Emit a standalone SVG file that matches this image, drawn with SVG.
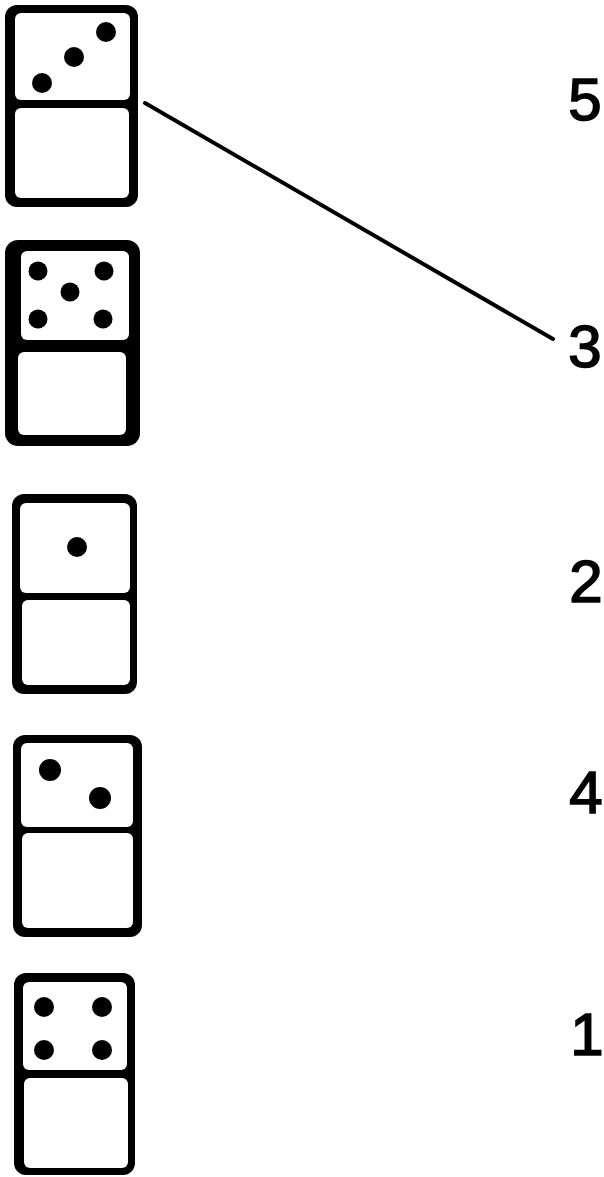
<svg xmlns="http://www.w3.org/2000/svg" width="604" height="1177" viewBox="0 0 604 1177">
<style>
.body{fill:#000}
.cell{fill:#fff}
.pip{fill:#000}
.lbl{font-family:"Liberation Sans",Arial,sans-serif;font-size:60px;fill:#000;stroke:#000;stroke-width:1.6;text-anchor:middle}
.conn{stroke:#000;stroke-width:4;fill:none;stroke-linecap:round}
</style>
<rect width="604" height="1177" fill="#fff"/>
<g id="domino-3">
<rect class="body" x="5" y="5" width="133" height="202" rx="12"/>
<rect class="cell" x="15" y="13" width="115" height="87" rx="6"/>
<rect class="cell" x="15" y="108" width="114" height="90" rx="6"/>
<circle class="pip" cx="42" cy="83" r="10"/>
<circle class="pip" cx="74" cy="57" r="10"/>
<circle class="pip" cx="106" cy="32" r="10"/>
</g>
<g id="domino-5">
<rect class="body" x="5" y="240" width="135" height="206" rx="13"/>
<rect class="cell" x="21" y="251" width="108" height="89" rx="6"/>
<rect class="cell" x="18" y="352" width="108" height="83" rx="6"/>
<circle class="pip" cx="38" cy="271" r="9.5"/>
<circle class="pip" cx="104" cy="271" r="9.5"/>
<circle class="pip" cx="70" cy="292" r="9.5"/>
<circle class="pip" cx="38" cy="319" r="9.5"/>
<circle class="pip" cx="103" cy="319" r="9.5"/>
</g>
<g id="domino-1">
<rect class="body" x="12" y="494" width="125" height="200" rx="12"/>
<rect class="cell" x="20" y="503" width="110" height="90" rx="6"/>
<rect class="cell" x="22" y="600" width="108" height="85" rx="6"/>
<circle class="pip" cx="77" cy="547" r="10"/>
</g>
<g id="domino-2">
<rect class="body" x="13" y="735" width="129" height="202" rx="12"/>
<rect class="cell" x="21" y="743" width="112" height="84" rx="6"/>
<rect class="cell" x="22" y="833" width="111" height="95" rx="6"/>
<circle class="pip" cx="50" cy="770" r="11"/>
<circle class="pip" cx="100" cy="798" r="11"/>
</g>
<g id="domino-4">
<rect class="body" x="14" y="973" width="121" height="202" rx="12"/>
<rect class="cell" x="23" y="982" width="104" height="88" rx="6"/>
<rect class="cell" x="24" y="1078" width="104" height="90" rx="6"/>
<circle class="pip" cx="44" cy="1007" r="10"/>
<circle class="pip" cx="102" cy="1007" r="10"/>
<circle class="pip" cx="44" cy="1050" r="10"/>
<circle class="pip" cx="102" cy="1050" r="10"/>
</g>
<g id="labels">
<text id="label-5" class="lbl" x="585" y="120">5</text>
<text id="label-3" class="lbl" x="585" y="367">3</text>
<text id="label-2" class="lbl" x="586" y="602">2</text>
<text id="label-4" class="lbl" x="586" y="813">4</text>
<text id="label-1" class="lbl" x="587" y="1055">1</text>
</g>
<g id="connectors">
<line class="conn" x1="145" y1="103" x2="553" y2="339"/>
</g>
</svg>
